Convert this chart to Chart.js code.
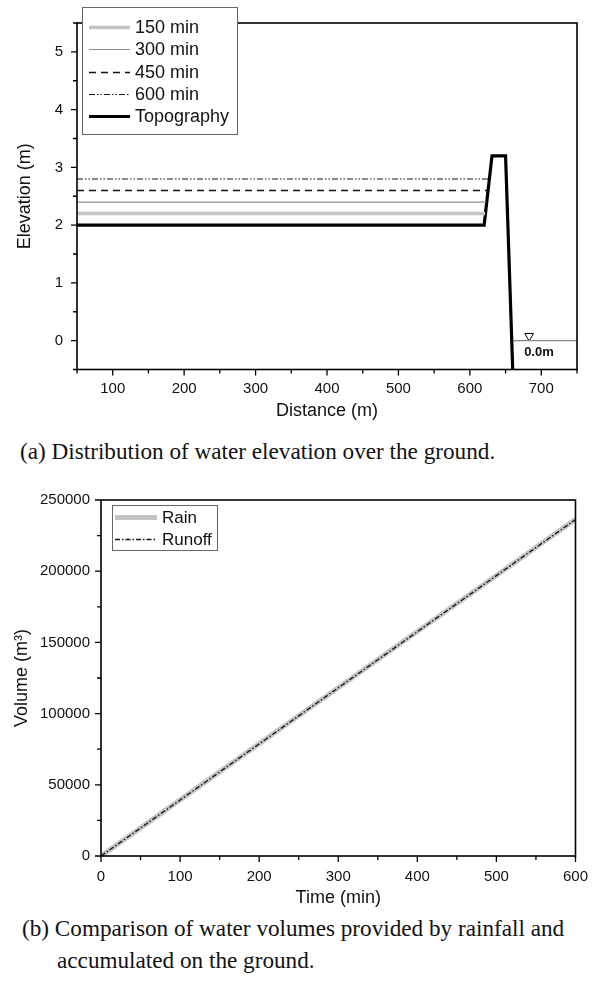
<!DOCTYPE html>
<html>
<head>
<meta charset="utf-8">
<script src="https://cdn.jsdelivr.net/npm/chart.js@4"></script>
<style>
  body { margin: 0; background: #fff; width: 600px; height: 982px; position: relative; overflow: hidden; }
  canvas { position: absolute; left: 0; }
  .cap { position: absolute; font-family: "Liberation Serif", "Times New Roman", serif; font-size: 23.2px; color: #111; white-space: nowrap; line-height: 1; }
</style>
</head>
<body>
<canvas id="chartA" width="600" height="430" style="top:0"></canvas>
<div class="cap" style="left:20px;top:440px">(a) Distribution of water elevation over the ground.</div>
<canvas id="chartB" width="600" height="430" style="top:480px"></canvas>
<div class="cap" style="left:22px;top:917px">(b) Comparison of water volumes provided by rainfall and</div>
<div class="cap" style="left:57px;top:949px">accumulated on the ground.</div>
<script>
// (a) water elevation
const waterLabels = ['150 min', '300 min', '450 min', '600 min'];
const waterLevels = [2.2, 2.4, 2.6, 2.8];
const waterStartX = [50, 50, 50, 50];
const waterEndX = [621.5, 623, 624.5, 626];
const topoX = [50, 620, 631, 650, 660];
const topoY = [2, 2, 3.2, 3.2, -0.5];
const seaX = [660, 750];
const seaY = [0, 0];
const seaMarker = { x: 683, y: 0.08, text: '0.0m', textX: 676, textY: -0.2 };

// (b) volumes
const timeMin = [0, 100, 200, 300, 400, 500, 600];
const rainVol = [0, 39400, 78800, 118200, 157600, 197000, 236400];
const runoffVol = [0, 39300, 78700, 118100, 157500, 196900, 236300];

const SANS = '"Liberation Sans", Arial, sans-serif';
const INK = '#111';

function pts(xs, ys) {
    return xs.map((x, i) => ({ x: x, y: ys[i] }));
}

// box around the plot + outward major/minor ticks on bottom and left
const frameTicks = {
    id: 'frameTicks',
    afterDraw(chart, args, o) {
        const { ctx, chartArea: a, scales: { x, y } } = chart;
        ctx.save();
        ctx.strokeStyle = '#000';
        ctx.lineWidth = 1.6;
        ctx.strokeRect(a.left, a.top, a.right - a.left, a.bottom - a.top);
        ctx.lineWidth = 1.3;
        ctx.beginPath();
        x.ticks.forEach(t => {
            const px = x.getPixelForValue(t.value);
            const len = Math.abs(t.value % o.xMajor) < 1e-9 ? 6 : 4;
            ctx.moveTo(px, a.bottom);
            ctx.lineTo(px, a.bottom + len);
        });
        y.ticks.forEach(t => {
            const py = y.getPixelForValue(t.value);
            const len = Math.abs(t.value % o.yMajor) < 1e-9 ? 6 : 4;
            ctx.moveTo(a.left, py);
            ctx.lineTo(a.left - len, py);
        });
        ctx.stroke();
        ctx.restore();
    }
};

// framed legend inside the plot, built from the datasets
const boxLegend = {
    id: 'boxLegend',
    afterDraw(chart, args, o) {
        const ctx = chart.ctx;
        const items = chart.data.datasets.filter(d => !d.hideInLegend);
        ctx.save();
        ctx.fillStyle = '#fff';
        ctx.fillRect(o.x, o.y, o.w, o.h);
        ctx.strokeStyle = '#666';
        ctx.lineWidth = 1;
        ctx.strokeRect(o.x + 0.5, o.y + 0.5, o.w, o.h);
        ctx.font = o.font;
        ctx.textBaseline = 'middle';
        items.forEach((d, i) => {
            const cy = Math.round(o.y + o.first + i * o.row) + 0.5;
            ctx.strokeStyle = d.borderColor;
            ctx.lineWidth = d.borderWidth;
            ctx.setLineDash(d.borderDash || []);
            ctx.beginPath();
            ctx.moveTo(o.x + o.lineX, cy);
            ctx.lineTo(o.x + o.lineX + o.sample, cy);
            ctx.stroke();
            ctx.setLineDash([]);
            ctx.fillStyle = INK;
            ctx.fillText(d.label, o.x + o.textX, cy + 1);
        });
        ctx.restore();
    }
};

// "0.0m" note under the sea-level marker
const seaNote = {
    id: 'seaNote',
    afterDatasetsDraw(chart) {
        const { ctx, scales: { x, y } } = chart;
        ctx.save();
        ctx.font = 'bold 13px ' + SANS;
        ctx.fillStyle = INK;
        ctx.textBaseline = 'middle';
        ctx.fillText(seaMarker.text, x.getPixelForValue(seaMarker.textX), y.getPixelForValue(seaMarker.textY));
        ctx.restore();
    }
};

function lineSet(label, data, color, width, dash, extra) {
    return Object.assign({
        label: label, data: data, borderColor: color, borderWidth: width,
        borderDash: dash, pointRadius: 0, fill: false, tension: 0
    }, extra || {});
}

const waterStyles = [
    ['#c4c4c4', 3.5, []],
    ['#8c8c8c', 1.2, []],
    ['#111', 1.5, [7, 5]],
    ['#111', 1.1, [6, 2, 1.5, 2, 1.5, 2]]
];

const setsA = waterLabels.map((lab, i) =>
    lineSet(lab, pts([waterStartX[i], waterEndX[i]], [waterLevels[i], waterLevels[i]]),
        waterStyles[i][0], waterStyles[i][1], waterStyles[i][2]));
setsA.push(lineSet('Topography', pts(topoX, topoY), '#000', 3.2, []));
setsA.push(lineSet('sea', pts(seaX, seaY), '#888', 1.2, [], { hideInLegend: true }));
setsA.push({
    label: 'marker', data: [{ x: seaMarker.x, y: seaMarker.y }], showLine: false,
    pointStyle: 'triangle', rotation: 180, pointRadius: 5, pointBorderWidth: 1,
    pointBorderColor: '#000', pointBackgroundColor: '#fff', hideInLegend: true
});

function axisCommon(min, max, step, major, labelPad, fmt) {
    return {
        type: 'linear', min: min, max: max,
        grid: { display: false, drawTicks: false, tickLength: 0 },
        border: { display: false },
        ticks: {
            stepSize: step, autoSkip: false, maxRotation: 0, padding: labelPad,
            color: INK, font: { family: SANS, size: 15 },
            callback: v => (Math.abs(v % major) < 1e-9 ? fmt(v) : '')
        }
    };
}

const xA = axisCommon(50, 750, 50, 100, 10, v => String(v));
xA.title = { display: true, text: 'Distance (m)', color: INK, font: { family: SANS, size: 18 }, padding: { top: 0, bottom: 8 } };
xA.afterFit = s => { s.height = 60.5; };
const yA = axisCommon(-0.5, 5.5, 0.5, 1, 14, v => String(v));
yA.title = { display: true, text: 'Elevation (m)', color: INK, font: { family: SANS, size: 18 }, padding: { top: 14, bottom: 0 } };
yA.afterFit = s => { s.width = 77; };

new Chart(document.getElementById('chartA'), {
    type: 'line',
    data: { datasets: setsA },
    options: {
        responsive: false, animation: false, devicePixelRatio: 1,
        layout: { padding: { left: 0, right: 23, top: 1, bottom: 0 } },
        scales: { x: xA, y: yA },
        plugins: {
            legend: { display: false }, tooltip: { enabled: false },
            frameTicks: { xMajor: 100, yMajor: 1 },
            boxLegend: { x: 82, y: 7, w: 155, h: 127, first: 20, row: 22.3, lineX: 7, sample: 41, textX: 53, font: '18px ' + SANS }
        }
    },
    plugins: [frameTicks, boxLegend, seaNote]
});

// (b)
const setsB = [
    lineSet('Rain', pts(timeMin, rainVol), '#c4c4c4', 5, [], { order: 2 }),
    lineSet('Runoff', pts(timeMin, runoffVol), '#111', 1.3, [5, 2, 1.5, 2], { order: 1 })
];

const xB = axisCommon(0, 600, 50, 100, 12, v => String(v));
xB.title = { display: true, text: 'Time (min)', color: INK, font: { family: SANS, size: 18 }, padding: { top: 0, bottom: 1 } };
xB.afterFit = s => { s.height = 54; };
const yB = axisCommon(0, 250000, 25000, 50000, 11, v => String(v));
yB.title = { display: true, text: 'Volume (m³)', color: INK, font: { family: SANS, size: 18 }, padding: { top: 11, bottom: 0 } };
yB.afterFit = s => { s.width = 101; };

new Chart(document.getElementById('chartB'), {
    type: 'line',
    data: { datasets: setsB },
    options: {
        responsive: false, animation: false, devicePixelRatio: 1,
        layout: { padding: { left: 0, right: 12, top: 16, bottom: 0 } },
        scales: { x: xB, y: yB },
        plugins: {
            legend: { display: false }, tooltip: { enabled: false },
            frameTicks: { xMajor: 100, yMajor: 50000 },
            boxLegend: { x: 112, y: 25, w: 105, h: 45, first: 12, row: 21.5, lineX: 3, sample: 42, textX: 50, font: '17px ' + SANS }
        }
    },
    plugins: [frameTicks, boxLegend]
});
</script>
</body>
</html>
